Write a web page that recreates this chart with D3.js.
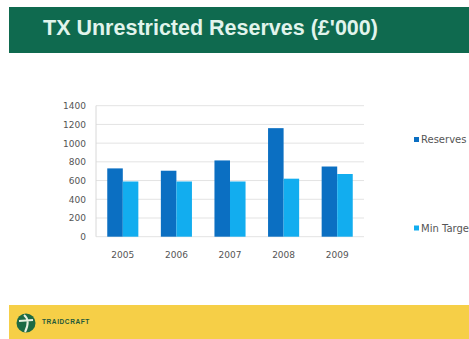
<!DOCTYPE html>
<html>
<head>
<meta charset="utf-8">
<script src="https://cdn.jsdelivr.net/npm/d3@7"></script>
<style>
  html, body { margin: 0; padding: 0; background: #fff; overflow: hidden; }
  svg { display: block; }
</style>
</head>
<body>
<svg id="chart" width="469" height="339"></svg>
<script>
const title = "TX Unrestricted Reserves (£'000)";
const categories = ["2005", "2006", "2007", "2008", "2009"];
const seriesNames = ["Reserves", "Min Target"];
const reserves = [730, 705, 815, 1160, 750];
const minTarget = [590, 590, 590, 620, 670];
const yTicks = [0, 200, 400, 600, 800, 1000, 1200, 1400];
const colors = ["#0b6fc2", "#12adef"];

const svg = d3.select("#chart");

// Title banner
svg.append("rect").attr("x", 9).attr("y", 7).attr("width", 460).attr("height", 46).attr("fill", "#0f6a4f");
svg.append("text").attr("x", 43).attr("y", 35)
  .attr("font-family", "Liberation Sans, Arial, sans-serif").attr("font-weight", "bold")
  .attr("font-size", 21.5).attr("fill", "#e1f4ec").text(title);

// Footer band
svg.append("rect").attr("x", 9).attr("y", 305).attr("width", 460).attr("height", 34).attr("fill", "#f6cf47");
svg.append("circle").attr("cx", 26).attr("cy", 323).attr("r", 9.5).attr("fill", "#1c6a44");
svg.append("path").attr("d", "M24,315 C29,319 28,326 25,332 M19,321 L33,320")
  .attr("stroke", "#e8f0e0").attr("stroke-width", 2).attr("fill", "none");
svg.append("text").attr("x", 42).attr("y", 324)
  .attr("font-family", "Liberation Sans, Arial, sans-serif").attr("font-weight", "bold")
  .attr("font-size", 6.5).attr("letter-spacing", 0.6).attr("fill", "#1f5a3a").text("TRAIDCRAFT");

// Chart
const plotLeft = 96, plotRight = 364, plotTop = 105.7, plotBottom = 236.7;
const y = d3.scaleLinear().domain([0, 1400]).range([plotBottom, plotTop]);
const x0 = d3.scaleBand().domain(categories).range([plotLeft, plotRight]).paddingInner(0.42).paddingOuter(0.21);
const x1 = d3.scaleBand().domain(seriesNames).range([0, x0.bandwidth()]);

// gridlines
svg.append("g").selectAll("line").data(yTicks).join("line")
  .attr("x1", plotLeft).attr("x2", plotRight)
  .attr("y1", d => y(d)).attr("y2", d => y(d))
  .attr("stroke", "#e3e3e3").attr("stroke-width", 1);
svg.append("line").attr("x1", plotLeft).attr("x2", plotLeft).attr("y1", plotTop).attr("y2", plotBottom)
  .attr("stroke", "#d8d8d8");

// Y axis labels
const yAxis = d3.axisLeft(y).tickValues(yTicks).tickFormat(d3.format("d")).tickSize(0).tickPadding(10);
const yg = svg.append("g").attr("transform", `translate(${plotLeft},0)`).call(yAxis);
yg.select(".domain").remove();
yg.selectAll("text").attr("font-family", "DejaVu Sans, Verdana, sans-serif").attr("font-size", 9).attr("fill", "#555");

// X axis labels
const xAxis = d3.axisBottom(x0).tickSize(0).tickPadding(15);
const xg = svg.append("g").attr("transform", `translate(0,${plotBottom})`).call(xAxis);
xg.select(".domain").remove();
xg.selectAll("text").attr("font-family", "DejaVu Sans, Verdana, sans-serif").attr("font-size", 9).attr("fill", "#555");

// Bars
const data = categories.map((c, i) => ({ c, vals: [reserves[i], minTarget[i]] }));
const groups = svg.append("g").selectAll("g").data(data).join("g")
  .attr("transform", d => `translate(${x0(d.c)},0)`);
groups.selectAll("rect").data(d => d.vals.map((v, j) => ({ v, s: seriesNames[j], j }))).join("rect")
  .attr("x", d => x1(d.s)).attr("width", x1.bandwidth())
  .attr("y", d => y(d.v)).attr("height", d => y(0) - y(d.v))
  .attr("fill", d => colors[d.j]);

// Legend
const legendY = [139.5, 228];
const lg = svg.append("g").selectAll("g").data(seriesNames).join("g")
  .attr("transform", (d, i) => `translate(414,${legendY[i]})`);
lg.append("rect").attr("x", 0).attr("y", -2.5).attr("width", 5).attr("height", 5).attr("fill", (d, i) => colors[i]);
lg.append("text").attr("x", 7).attr("y", 3.5)
  .attr("font-family", "DejaVu Sans, Verdana, sans-serif").attr("font-size", 10).attr("fill", "#555")
  .text(d => d);
</script>
</body>
</html>
